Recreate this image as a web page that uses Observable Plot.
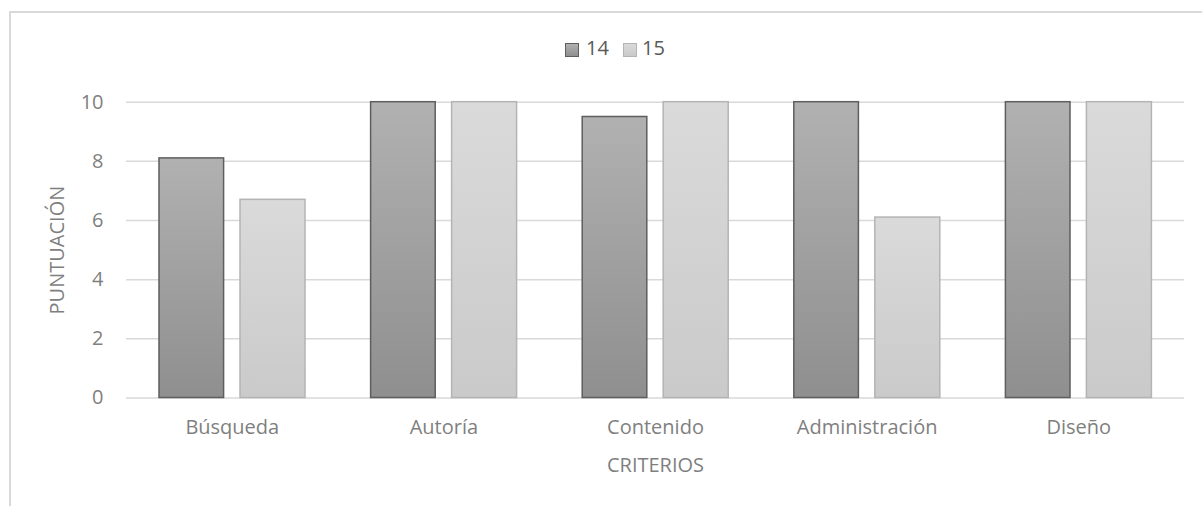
<!DOCTYPE html>
<html>
<head>
<meta charset="utf-8">
<script src="https://cdn.jsdelivr.net/npm/d3@7"></script>
<script src="https://cdn.jsdelivr.net/npm/@observablehq/plot@0.6"></script>
<style>
  html, body { margin: 0; padding: 0; background: #fff; }
  body { width: 1202px; height: 506px; position: relative; overflow: hidden; font-family: "Open Sans", sans-serif; }
  #frame { position: absolute; left: 9px; top: 11px; width: 1400px; height: 700px; border-left: 2px solid #d9d9d9; border-top: 2px solid #d9d9d9; box-sizing: border-box; }
  #legend { position: absolute; left: 0; top: 0; width: 1202px; height: 80px; }
  .sw { position: absolute; top: 43px; width: 12px; height: 12px; box-sizing: content-box; }
  .lt { position: absolute; top: 34px; font-size: 20px; line-height: 28px; color: #595959; }
  #chart { position: absolute; left: 0; top: 80px; }
</style>
</head>
<body>
<div id="frame"></div>
<div id="legend"></div>
<div id="chart"></div>
<script>
const categories = ["Búsqueda", "Autoría", "Contenido", "Administración", "Diseño"];
const series = ["14", "15"];
const values14 = [8.1, 10, 9.5, 10, 10];
const values15 = [6.7, 10, 10, 6.1, 10];
const yTicks = [0, 2, 4, 6, 8, 10];
const yLabel = "PUNTUACIÓN";
const xLabel = "CRITERIOS";

const data14 = categories.map((c, i) => ({category: c, series: series[0], value: values14[i]}));
const data15 = categories.map((c, i) => ({category: c, series: series[1], value: values15[i]}));

const svgns = "http://www.w3.org/2000/svg";
function gradientDefs() {
  const defs = document.createElementNS(svgns, "defs");
  const specs = [["g14", "#b1b1b1", "#8f8f8f"], ["g15", "#dadada", "#cacaca"]];
  for (const [id, top, bottom] of specs) {
    const lg = document.createElementNS(svgns, "linearGradient");
    lg.setAttribute("id", id);
    lg.setAttribute("x1", "0"); lg.setAttribute("y1", "0");
    lg.setAttribute("x2", "0"); lg.setAttribute("y2", "1");
    const s1 = document.createElementNS(svgns, "stop");
    s1.setAttribute("offset", "0"); s1.setAttribute("stop-color", top);
    const s2 = document.createElementNS(svgns, "stop");
    s2.setAttribute("offset", "1"); s2.setAttribute("stop-color", bottom);
    lg.appendChild(s1); lg.appendChild(s2);
    defs.appendChild(lg);
  }
  return defs;
}

const chart = Plot.plot({
  width: 1202,
  height: 426,
  marginTop: 21.7,
  marginBottom: 108.5,
  marginLeft: 126,
  marginRight: 18,
  style: {fontFamily: "'Open Sans', sans-serif", background: "transparent", overflow: "visible"},
  x: {domain: categories, padding: 0, round: false},
  y: {domain: [0, 10]},
  marks: [
    gradientDefs,
    Plot.gridY(yTicks, {stroke: "#d9d9d9", strokeOpacity: 1, strokeWidth: 1.5}),
    Plot.barY(data14, {x: "category", y: "value", fill: "url(#g14)", stroke: "#5e5e5e", strokeWidth: 1.5, insetLeft: 33, insetRight: 114}),
    Plot.barY(data15, {x: "category", y: "value", fill: "url(#g15)", stroke: "#b4b4b4", strokeWidth: 1.5, insetLeft: 114, insetRight: 32.6}),
    Plot.axisY(yTicks, {tickSize: 0, tickPadding: 23, fontSize: 20, fill: "#7f7f7f", label: null}),
    Plot.axisX({tickSize: 0, tickPadding: 22, fontSize: 20, fill: "#7f7f7f", label: null}),
    Plot.text([yLabel], {frameAnchor: "left", dx: -69, rotate: -90, textAnchor: "middle", fontSize: 20, fill: "#7f7f7f", lineAnchor: "middle"}),
    Plot.text([xLabel], {frameAnchor: "bottom", dy: 67.5, textAnchor: "middle", fontSize: 20, fill: "#7f7f7f", lineAnchor: "middle"})
  ]
});
document.getElementById("chart").appendChild(chart);

// legend
const legend = document.getElementById("legend");
const legendSpec = [
  {name: series[0], sx: 565, tx: 586, bg: "linear-gradient(#b1b1b1, #8f8f8f)", border: "#5e5e5e"},
  {name: series[1], sx: 623, tx: 642, bg: "linear-gradient(#dadada, #cacaca)", border: "#b4b4b4"}
];
for (const s of legendSpec) {
  const sw = document.createElement("div");
  sw.className = "sw";
  sw.style.left = s.sx + "px";
  sw.style.background = s.bg;
  sw.style.border = "1.5px solid " + s.border;
  legend.appendChild(sw);
  const t = document.createElement("div");
  t.className = "lt";
  t.style.left = s.tx + "px";
  t.textContent = s.name;
  legend.appendChild(t);
}
</script>
</body>
</html>
